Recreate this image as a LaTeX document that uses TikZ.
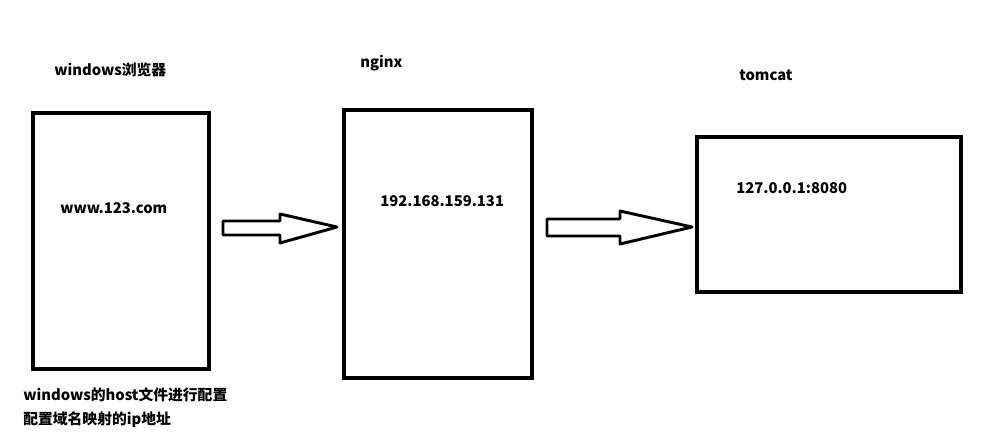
\documentclass[tikz,border=0pt]{standalone}
\usepackage{fontspec}
\setmainfont{Noto Sans CJK SC}
\begin{document}
\begin{tikzpicture}[x=.75pt,y=-.75pt,every node/.style={font=\fontsize{11.1}{13}\selectfont\bfseries,anchor=west,inner sep=0pt}]
	\useasboundingbox(0,0)rectangle(995,440);
	\coordinate(B1)at(33,113);
	\coordinate(B1')at(209,369);
	\coordinate(B2)at(344,110);
	\coordinate(B2')at(532,378);
	\coordinate(B3)at(697,137);
	\coordinate(B3')at(961,292);
	%boxes
	\foreach\a/\b in{B1/B1',B2/B2',B3/B3'}{\draw[line width=3pt](\a)rectangle(\b);}
	%block arrows
	\draw[line width=2.2pt,line join=round](223,221)--(280,221)--(280,214)--(337,227)--(280,243)--(280,235)--(223,235)--cycle;
	\draw[line width=2.2pt,line join=round](547,219)--(620,219)--(620,211)--(692,227)--(620,244)--(620,236)--(547,236)--cycle;
	\node(browser)at(54,70){windows浏览器};
	\node(url)at(60,208){www.123.com};
	\node(nginx)at(360,63){nginx};
	\node(ngip)at(380,201){192.168.159.131};
	\node(tomcat)at(739,75){tomcat};
	\node(tcip)at(736,188){127.0.0.1:8080};
	\node(host)at(23,395){windows的host文件进行配置};
	\node(map)at(23,420){配置域名映射的ip地址};
\end{tikzpicture}
\end{document}
